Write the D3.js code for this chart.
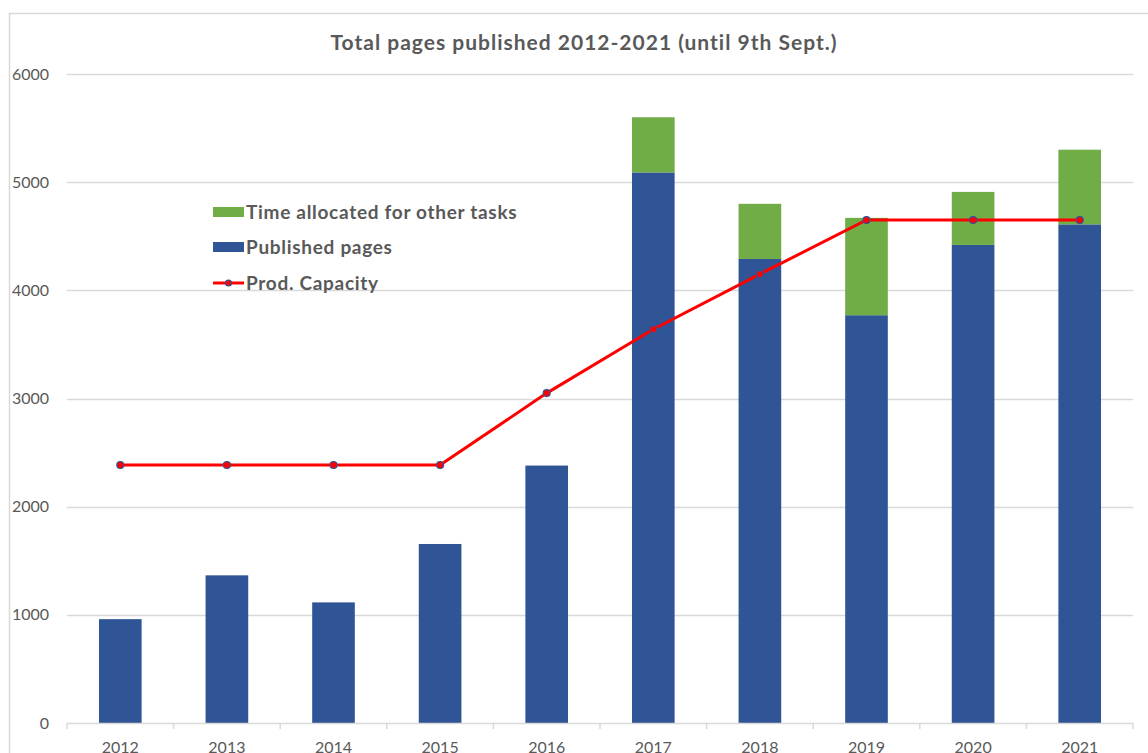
<!DOCTYPE html>
<html>
<head>
<meta charset="utf-8">
<script src="https://cdn.jsdelivr.net/npm/d3@7"></script>
<style>
	body { margin: 0; background: #fff; }
	svg { display: block; font-family: Lato, "Open Sans", sans-serif; }
</style>
</head>
<body>
<svg id="chart"></svg>
<script>
// values
var years = ["2012", "2013", "2014", "2015", "2016", "2017", "2018", "2019", "2020", "2021"];
var publishedPages = [960, 1365, 1115, 1655, 2380, 5090, 4290, 3770, 4420, 4610];
var otherTasks = [0, 0, 0, 0, 0, 510, 510, 900, 490, 690];
var prodCapacity = [2385, 2385, 2385, 2385, 3050, 3640, 4150, 4650, 4650, 4650];
var yTicks = [0, 1000, 2000, 3000, 4000, 5000, 6000];
var titleText = "Total pages published 2012-2021 (until 9th Sept.)";
var legendLabels = ["Time allocated for other tasks", "Published pages", "Prod. Capacity"];

var width = 1148, height = 753;
var margin = { top: 74, right: 15, bottom: 30, left: 67 };
var blue = "#2F5597", green = "#70AD47", red = "#FF0000", grid = "#D9D9D9", text = "#595959";

var svg = d3.select("#chart")
	.attr("width", width)
	.attr("height", height);

// outer frame (cropped on the right and bottom)
svg.append("rect")
	.attr("x", 9.5).attr("y", 13.5)
	.attr("width", width + 20).attr("height", height + 20)
	.attr("fill", "none")
	.attr("stroke", grid)
	.attr("stroke-width", 1.5);

var xScale = d3.scaleBand()
	.domain(years)
	.range([margin.left, width - margin.right])
	.paddingInner(0.6)
	.paddingOuter(0.3);

var yScale = d3.scaleLinear()
	.domain([0, 6000])
	.range([height - margin.bottom, margin.top]);

// gridlines
svg.append("g").attr("class", "grid")
	.selectAll("line")
	.data(yTicks.filter(function(d) { return d > 0; }))
	.enter().append("line")
	.attr("x1", margin.left).attr("x2", width - margin.right)
	.attr("y1", function(d) { return Math.round(yScale(d)) + 0.5; })
	.attr("y2", function(d) { return Math.round(yScale(d)) + 0.5; })
	.attr("stroke", grid)
	.attr("stroke-width", 1.5);

// y axis labels
var yAxis = d3.axisLeft(yScale).tickValues(yTicks).tickSize(0).tickPadding(18).tickFormat(d3.format("d"));
var yAxisLine = svg.append("g")
	.attr("transform", "translate(" + margin.left + ",0)")
	.call(yAxis);
yAxisLine.select(".domain").remove();
yAxisLine.selectAll("text")
	.attr("fill", text)
	.style("font-size", "16px")
	.style("font-family", "Lato, sans-serif");

// stacked bars
var stackData = years.map(function(y, i) {
	return { year: y, published: publishedPages[i], other: otherTasks[i] };
});
var series = d3.stack().keys(["published", "other"])(stackData);
var colors = { published: blue, other: green };

svg.append("g").attr("class", "bars")
	.selectAll("g")
	.data(series)
	.enter().append("g")
	.attr("fill", function(d) { return colors[d.key]; })
	.selectAll("rect")
	.data(function(d) { return d; })
	.enter().append("rect")
	.attr("x", function(d) { return xScale(d.data.year); })
	.attr("width", xScale.bandwidth())
	.attr("y", function(d) { return yScale(d[1]); })
	.attr("height", function(d) { return yScale(d[0]) - yScale(d[1]); });

// x axis
var xAxis = d3.axisBottom(xScale).tickSize(0).tickPadding(19);
var xAxisLine = svg.append("g")
	.attr("transform", "translate(0," + (height - margin.bottom) + ")")
	.call(xAxis);
xAxisLine.select(".domain").attr("stroke", grid).attr("stroke-width", 1.5);
xAxisLine.selectAll("text")
	.attr("fill", text)
	.style("font-size", "16px")
	.style("font-family", "Lato, sans-serif");

// tick marks between categories
var step = xScale.step();
var boundaries = d3.range(years.length + 1);
xAxisLine.append("g")
	.selectAll("line")
	.data(boundaries)
	.enter().append("line")
	.attr("x1", function(i) { return margin.left + i * step; })
	.attr("x2", function(i) { return margin.left + i * step; })
	.attr("y1", 0).attr("y2", 6)
	.attr("stroke", grid)
	.attr("stroke-width", 1.5);

// capacity line
var cx = function(i) { return xScale(years[i]) + xScale.bandwidth() / 2; };
var line = d3.line()
	.x(function(d, i) { return cx(i); })
	.y(function(d) { return yScale(d); });

svg.append("path")
	.datum(prodCapacity)
	.attr("d", line)
	.attr("fill", "none")
	.attr("stroke", red)
	.attr("stroke-width", 3);

svg.append("g")
	.selectAll("circle")
	.data(prodCapacity)
	.enter().append("circle")
	.attr("cx", function(d, i) { return cx(i); })
	.attr("cy", function(d) { return yScale(d); })
	.attr("r", 3.5)
	.attr("fill", red)
	.attr("stroke", blue)
	.attr("stroke-width", 1.2);

// title
svg.append("text")
	.attr("x", 584).attr("y", 50)
	.attr("text-anchor", "middle")
	.attr("fill", text)
	.style("font-size", "21px")
	.style("font-weight", "bold")
	.style("letter-spacing", "1px")
	.text(titleText);

// legend
var legend = svg.append("g").attr("transform", "translate(213,0)");
var legendY = [212, 247, 283];

legend.append("rect").attr("x", 0).attr("y", legendY[0] - 5).attr("width", 31).attr("height", 10).attr("fill", green);
legend.append("rect").attr("x", 0).attr("y", legendY[1] - 5).attr("width", 31).attr("height", 10).attr("fill", blue);
legend.append("line").attr("x1", 0).attr("x2", 31).attr("y1", legendY[2]).attr("y2", legendY[2])
	.attr("stroke", red).attr("stroke-width", 3);
legend.append("circle").attr("cx", 15.5).attr("cy", legendY[2]).attr("r", 3)
	.attr("fill", red).attr("stroke", blue).attr("stroke-width", 1.2);

legend.selectAll("text.label")
	.data(legendLabels)
	.enter().append("text")
	.attr("class", "label")
	.attr("x", 33)
	.attr("y", function(d, i) { return legendY[i]; })
	.attr("dy", "0.35em")
	.attr("fill", text)
	.style("font-size", "19px")
	.style("font-weight", "bold")
	.style("letter-spacing", "0.7px")
	.text(function(d) { return d; });
</script>
</body>
</html>
